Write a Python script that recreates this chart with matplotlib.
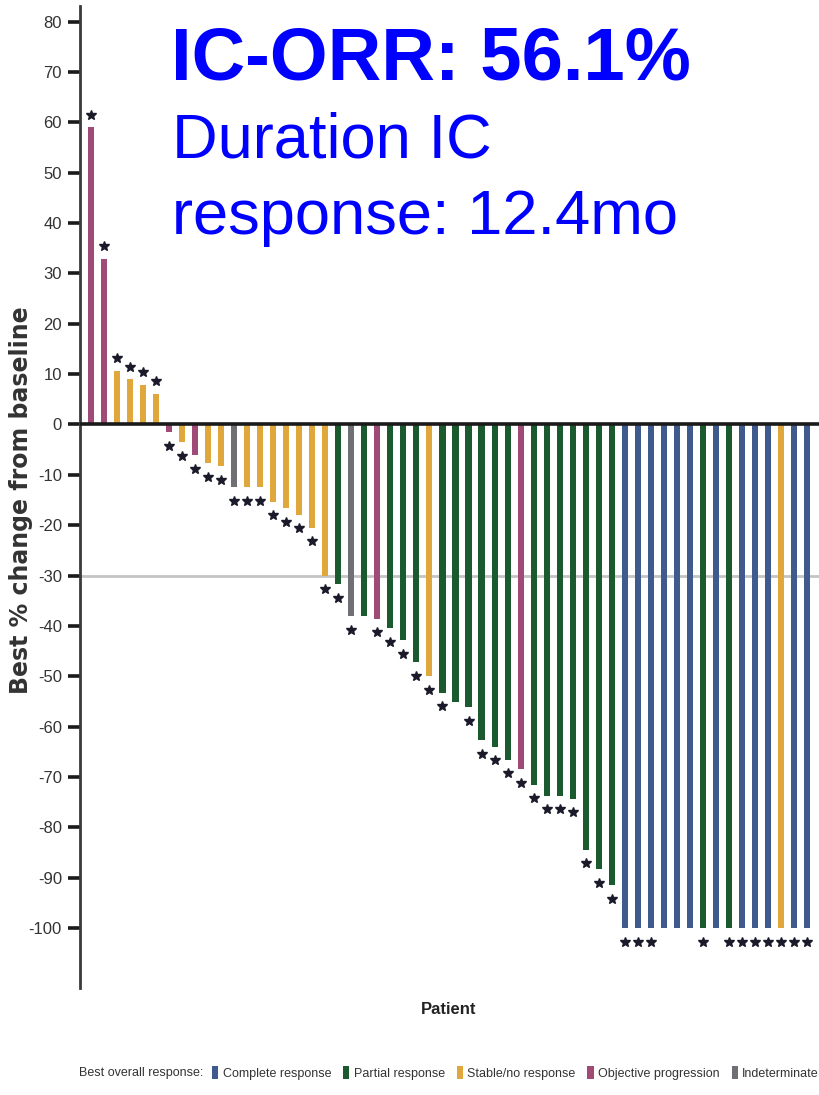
import numpy as np
import matplotlib
matplotlib.use("Agg")
import matplotlib.pyplot as plt
from matplotlib import font_manager
from matplotlib.patches import Patch


# best % change from baseline, one entry per patient (sorted waterfall)
change = [59.0, 32.9, 10.7, 9.0, 7.9, 6.1, -1.5, -3.5, -6.1, -7.7, -8.3,
          -12.4, -12.4, -12.4, -15.3, -16.6, -17.9, -20.5, -30.0, -31.7,
          -38.1, -38.1, -38.6, -40.4, -42.8, -47.2, -50.0, -53.3, -55.1,
          -56.1, -62.7, -64.0, -66.6, -68.5, -71.5, -73.7, -73.7, -74.3,
          -84.4, -88.3, -91.5,
          -100, -100, -100, -100, -100, -100, -100, -100, -100, -100,
          -100, -100, -100, -100, -100]

# CR complete, PR partial, SD stable/no response, OP objective progression, IND indeterminate
response = ["OP", "OP", "SD", "SD", "SD", "SD", "OP", "SD", "OP", "SD", "SD",
            "IND", "SD", "SD", "SD", "SD", "SD", "SD", "SD", "PR",
            "IND", "PR", "OP", "PR", "PR", "PR", "SD", "PR", "PR",
            "PR", "PR", "PR", "PR", "OP", "PR", "PR", "PR", "PR",
            "PR", "PR", "PR",
            "CR", "CR", "CR", "CR", "CR", "CR", "PR", "CR", "PR", "CR",
            "CR", "CR", "SD", "CR", "CR"]

# 1 = star marker drawn at the bar end
starred = [1, 1, 1, 1, 1, 1, 1, 1, 1, 1, 1,
           1, 1, 1, 1, 1, 1, 1, 1, 1,
           1, 0, 1, 1, 1, 1, 1, 1, 0,
           1, 1, 1, 1, 1, 1, 1, 1, 1,
           1, 1, 1,
           1, 1, 1, 0, 0, 0, 1, 0, 1, 1,
           1, 1, 1, 1, 1]

legend_keys = ["CR", "PR", "SD", "OP", "IND"]
legend_labels = ["Complete response", "Partial response", "Stable/no response",
                 "Objective progression", "Indeterminate"]
y_ticks = list(range(-100, 81, 10))

COLORS = {
    "CR": "#3f5a8c",
    "PR": "#1b5a2e",
    "SD": "#e0a83c",
    "OP": "#a04a78",
    "IND": "#6f6f74",
}


def pick_font(families):
    for fam in families:
        try:
            font_manager.findfont(font_manager.FontProperties(family=fam),
                                  fallback_to_default=False)
            return fam
        except ValueError:
            pass
    return "DejaVu Sans"


ARIAL = pick_font(["Liberation Sans", "DejaVu Sans"])
plt.rcParams["axes.unicode_minus"] = False

W, H = 819, 1095
fig = plt.figure(figsize=(W / 100, H / 100), dpi=100)
ax = fig.add_axes([80 / W, (H - 988) / H, (W - 80) / W, (988 - 6) / H])

x = np.arange(1, len(change) + 1)
vals = np.array(change)
cols = [COLORS[r] for r in response]

ax.axhline(-30, color="#c4c4c4", lw=2, zorder=1)
ax.bar(x, vals, width=0.47, color=cols, zorder=2)
ax.axhline(0, color="#1a1a1a", lw=2.6, zorder=3)

flags = np.array(starred, dtype=bool)
star_y = vals + np.where(vals >= 0, 2.5, -2.7)
ax.plot(x[flags], star_y[flags], linestyle="none", marker="*",
        color="#1a1a2a", markersize=7.5, zorder=4)

ax.set_xlim(0.18, 56.9)
ax.set_ylim(-111.9, 83.1)
ax.set_yticks(y_ticks)
ax.set_xticks([])
for side in ["top", "right", "bottom"]:
    ax.spines[side].set_visible(False)
ax.spines["left"].set_linewidth(2)
ax.spines["left"].set_color("#3a3a3a")
ax.tick_params(axis="y", direction="out", length=9, width=2.6,
               color="#1a1a1a", labelsize=12, labelcolor="#333333", pad=4)
for lab in ax.get_yticklabels():
    lab.set_family(ARIAL)

fig.text(21 / W, 1 - 500 / H, "Best % change from baseline", rotation=90,
         ha="center", va="center", fontsize=17, fontweight="bold",
         family="DejaVu Sans", color="#333333")
fig.text(449 / W, 1 - 1010 / H, "Patient", ha="center", va="center",
         fontsize=12, fontweight="bold", family=ARIAL, color="#222222")

# headline annotations
fig.text(171 / W, 1 - 80 / H, "IC-ORR: 56.1%", fontsize=53.5,
         fontweight="bold", color="#0000ff", family=ARIAL, va="baseline")
fig.text(172 / W, 1 - 158 / H, "Duration IC", fontsize=45.5,
         color="#0000ff", family=ARIAL, va="baseline")
fig.text(172 / W, 1 - 234 / H, "response: 12.4mo", fontsize=45.5,
         color="#0000ff", family=ARIAL, va="baseline")

# legend row
fig.text(79 / W, 1 - 1073 / H, "Best overall response:", ha="left",
         va="center", fontsize=9, family=ARIAL, color="#333333")
handles = [Patch(facecolor=COLORS[k], edgecolor="none") for k in legend_keys]
fig.legend(handles, legend_labels, loc="center left",
           bbox_to_anchor=(212 / W, 1 - 1073 / H), ncol=5, frameon=False,
           handlelength=0.5, handleheight=1.2, handletextpad=0.35,
           columnspacing=0.95, borderpad=0, borderaxespad=0,
           prop={"family": ARIAL, "size": 9}, labelcolor="#333333")

fig.savefig("out.png", dpi=100)
